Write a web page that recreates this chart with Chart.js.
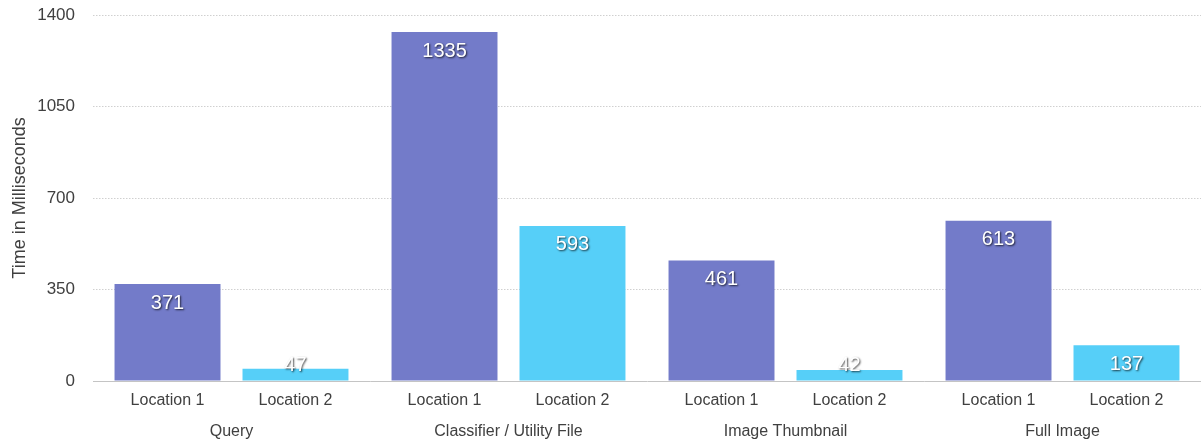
<!DOCTYPE html>
<html>
<head>
<meta charset="utf-8">
<script src="https://cdn.jsdelivr.net/npm/chart.js@4.4.1/dist/chart.umd.min.js"></script>
<style>
  html, body { margin: 0; padding: 0; background: #fff; }
  #wrap { width: 1201px; height: 442px; }
</style>
</head>
<body>
<div id="wrap"><canvas id="timeChart"></canvas></div>
<script>
// data
const groups = ['Query', 'Classifier / Utility File', 'Image Thumbnail', 'Full Image'];
const seriesNames = ['Location 1', 'Location 2'];
const location1 = [371, 1335, 461, 613];
const location2 = [47, 593, 42, 137];
const yTicks = [0, 350, 700, 1050, 1400];

const FONT = '"Liberation Sans", Arial, sans-serif';
const TEXT = '#404040';

// names of the two series under each bar
const seriesLabels = {
    id: 'seriesLabels',
    afterDraw(chart) {
        const ctx = chart.ctx;
        ctx.save();
        ctx.font = '16px ' + FONT;
        ctx.fillStyle = TEXT;
        ctx.textAlign = 'center';
        ctx.textBaseline = 'middle';
        chart.data.datasets.forEach(function(ds, i) {
            chart.getDatasetMeta(i).data.forEach(function(bar) {
                ctx.fillText(ds.label, bar.x, chart.chartArea.bottom + 20);
            });
        });
        ctx.restore();
    }
};

// white values near the top of each bar
const valueLabels = {
    id: 'valueLabels',
    afterDatasetsDraw(chart) {
        const ctx = chart.ctx;
        ctx.save();
        ctx.font = '20px ' + FONT;
        ctx.fillStyle = '#fff';
        ctx.textAlign = 'center';
        ctx.textBaseline = 'middle';
        ctx.shadowColor = 'rgba(0,0,0,0.75)';
        ctx.shadowBlur = 2;
        ctx.shadowOffsetX = 1;
        ctx.shadowOffsetY = 1;
        chart.data.datasets.forEach(function(ds, i) {
            chart.getDatasetMeta(i).data.forEach(function(bar, j) {
                const y = Math.min(bar.y + 19, bar.base - 15);
                ctx.fillText(String(ds.data[j]), bar.x, y);
            });
        });
        ctx.restore();
    }
};

document.addEventListener('DOMContentLoaded', function() {
    const ctx = document.getElementById('timeChart').getContext('2d');
    new Chart(ctx, {
        type: 'bar',
        data: {
            labels: groups,
            datasets: [{
                label: seriesNames[0],
                data: location1,
                backgroundColor: '#737bc9'
            }, {
                label: seriesNames[1],
                data: location2,
                backgroundColor: '#56cff8'
            }]
        },
        options: {
            responsive: true,
            maintainAspectRatio: false,
            animation: false,
            categoryPercentage: 0.924,
            barPercentage: 0.828,
            layout: { padding: { top: 15, right: 0, bottom: 0, left: 0 } },
            plugins: {
                legend: { display: false },
                tooltip: { enabled: false }
            },
            scales: {
                x: {
                    grid: { display: false, drawTicks: false },
                    border: { display: true, color: '#c4c4c4', width: 1 },
                    ticks: {
                        padding: 41,
                        color: TEXT,
                        font: { family: FONT, size: 16 }
                    },
                    afterFit(scale) { scale.height = 61; }
                },
                y: {
                    min: 0,
                    max: 1400,
                    afterBuildTicks(scale) {
                        scale.ticks = yTicks.map(function(v) { return { value: v }; });
                    },
                    grid: {
                        drawTicks: false,
                        color(c) { return c.tick && c.tick.value === 0 ? 'rgba(0,0,0,0)' : '#d0d0d0'; }
                    },
                    border: { display: false, dash: [1.5, 1.5] },
                    ticks: {
                        padding: 18,
                        color: TEXT,
                        font: { family: FONT, size: 17 },
                        callback(v) { return String(v); }
                    },
                    title: {
                        display: true,
                        text: 'Time in Milliseconds',
                        color: TEXT,
                        padding: { top: 9, bottom: 0 },
                        font: { family: FONT, size: 18 }
                    },
                    afterFit(scale) {
                        scale.width = 93;
                        scale.paddingTop = 0;
                        scale.paddingBottom = 0;
                    }
                }
            }
        },
        plugins: [seriesLabels, valueLabels]
    });
});
</script>
</body>
</html>
